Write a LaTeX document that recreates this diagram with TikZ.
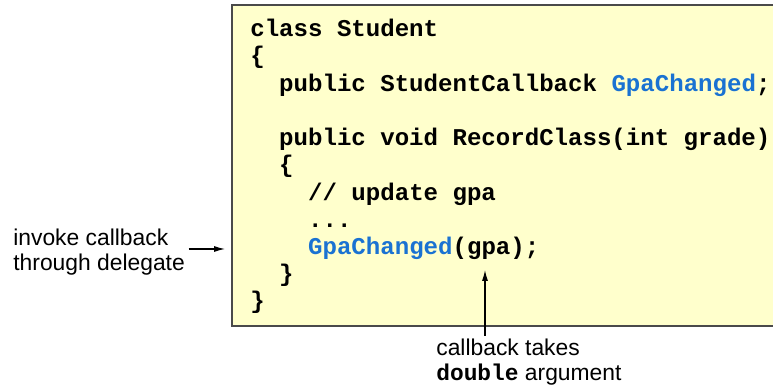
\documentclass[tikz,border=0pt]{standalone}
\usepackage{fontspec}
\setmainfont{Liberation Sans}
\newfontfamily\codefont{Liberation Mono}
\usetikzlibrary{arrows.meta,positioning}
\definecolor{codebg}{HTML}{FFFFCC}
\definecolor{codeframe}{HTML}{4A4A4A}
\definecolor{codeblue}{HTML}{1A72D2}
\newcommand{\kw}[1]{\textcolor{codeblue}{#1}}
\newcommand{\indt}{\phantom{xx}}

\begin{document}
\begin{tikzpicture}[
  codebox/.style={draw=codeframe, fill=codebg, line width=1.1pt, inner sep=0pt},
  code/.style={font=\codefont\bfseries\fontsize{13.7}{15.5}\selectfont, align=left, inner sep=0pt},
  note/.style={font=\fontsize{13}{14.2}\selectfont, align=left, inner sep=0pt},
  pointer/.style={-{Latex[length=2.2mm,width=1.2mm]}, line width=0.6pt}]

\useasboundingbox (0,0) rectangle (15.46,7.74);

% Rahmen und Quelltext
\node[codebox, anchor=north west, minimum width=11cm, minimum height=6.41cm] (box) at (4.62,7.65) {};
\node[code, anchor=base west] (listing) at (5.0,1.56) {class Student\\
\{\\
\indt public StudentCallback \kw{GpaChanged};\\[15.5pt]
\indt public void RecordClass(int grade)\\
\indt \{\\
\indt\indt // update gpa\\
\indt\indt ...\\
\indt\indt \kw{GpaChanged}(gpa);\\
\indt \}\\
\}};
\coordinate (gpaarg) at (9.70,2.34);

% Anmerkungen
\node[note, anchor=west] (invoke) at (0.26,2.70) {invoke callback\\through delegate};
\node[note, anchor=west] (cbnote) at (8.72,0.49) {callback takes\\{\codefont\bfseries double} argument};

\draw[pointer, shorten <=2pt, shorten >=0.12cm] ([yshift=0.06cm]invoke.east) -- ([yshift=0.06cm]invoke.east -| box.west);
\draw[pointer, shorten <=2pt] (cbnote.north -| gpaarg) -- (gpaarg);

\end{tikzpicture}
\end{document}
